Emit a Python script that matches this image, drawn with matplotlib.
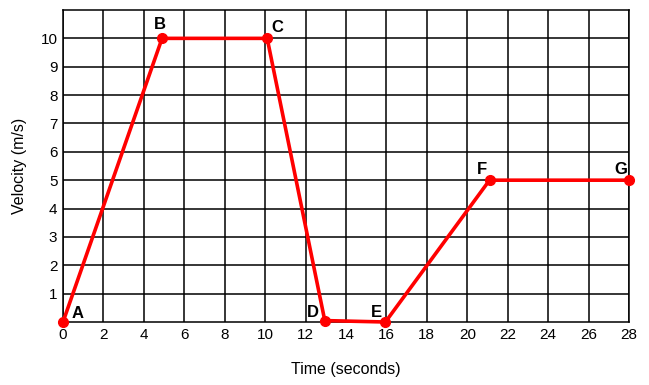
import matplotlib
matplotlib.use('Agg')
import matplotlib.pyplot as plt

# 速度-时间折线数据
time_s = [0, 4.9, 10.1, 12.95, 15.95, 21.1, 28]
velocity = [0, 10, 10, 0.05, 0, 5, 5]
point_names = ['A', 'B', 'C', 'D', 'E', 'F', 'G']
# 标签相对点的偏移 (像素)
label_offsets = [(15, 1), (-2, 6), (10, 3), (-12, 1), (-9, 2), (-8, 3), (-8, 3)]

x_ticks = list(range(0, 29, 2))
y_ticks = list(range(1, 11))

plt.rcParams['font.family'] = ['Liberation Sans', 'DejaVu Sans']

fig = plt.figure(figsize=(6.49, 3.85), dpi=100)
ax = fig.add_axes([63 / 649, 63 / 385, 566 / 649, 312 / 385])

ax.set_xlim(0, 28)
ax.set_ylim(0, 11)
ax.set_xticks(x_ticks)
ax.set_yticks(y_ticks)
ax.tick_params(length=0, labelsize=11, pad=4)
ax.grid(True, color='black', linewidth=1.1)
ax.set_axisbelow(True)
for s in ax.spines.values():
    s.set_color('black')
    s.set_linewidth(1.1)

ax.plot(time_s, velocity, '-', color='#ff0000', linewidth=2.6,
        marker='o', markersize=7, clip_on=False, zorder=3)

for x, y, name, (dx, dy) in zip(time_s, velocity, point_names, label_offsets):
    ax.annotate(name, (x, y), xytext=(dx, dy), textcoords='offset pixels',
                ha='center', va='bottom', fontsize=12, fontweight='bold',
                zorder=4)

ax.set_xlabel('Time (seconds)', fontsize=11.5, labelpad=15)
ax.set_ylabel('Velocity (m/s)', fontsize=11.5, labelpad=10)

fig.savefig('out.png', dpi=100, facecolor='white')
